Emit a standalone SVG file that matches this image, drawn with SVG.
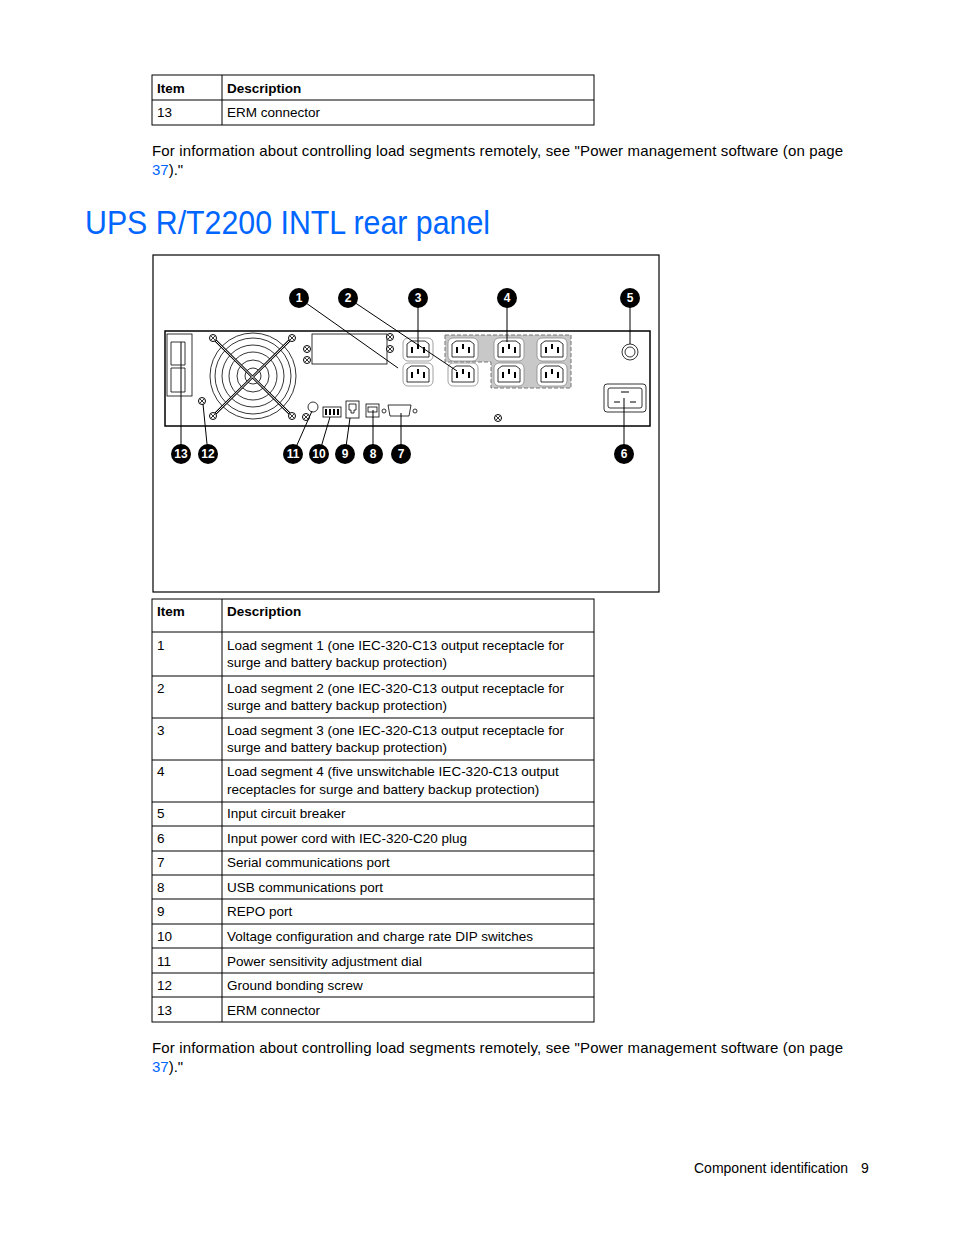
<svg xmlns="http://www.w3.org/2000/svg" width="954" height="1235" viewBox="0 0 954 1235">
<defs>
<style>
text{font-family:"Liberation Sans",Arial,sans-serif;font-size:13.5px;fill:#000}
.b{font-weight:bold}
.t{fill:#fff;font-weight:bold;font-size:12px;text-anchor:middle}
.ln{stroke:#000;stroke-width:1;fill:none}
.tb{stroke:#000;stroke-width:1;fill:none}
.p{fill:#fff;stroke:#000;stroke-width:0.8}
</style>
<g id="c13">
<rect x="0" y="0" width="30" height="23" rx="5" fill="#fff" stroke="#888" stroke-width="0.8"/>
<path d="M4,6 L8,3 H22 L26,6 V19 H4 Z" fill="none" stroke="#000" stroke-width="0.8"/>
<rect x="8" y="9" width="2" height="6" fill="#000"/><rect x="14" y="6" width="2" height="5" fill="#000"/><rect x="20" y="9" width="2" height="6" fill="#000"/>
</g>
<g id="sc"><circle r="3.5" fill="#fff" stroke="#000"/><path d="M-2,-2 L2,2 M-2,2 L2,-2" stroke="#000" stroke-width="0.8"/></g>
</defs>
<rect width="954" height="1235" fill="#fff"/>
<g id="table1">
<rect x="152" y="75" width="442" height="50" class="tb"/>
<line x1="152" y1="100" x2="594" y2="100" class="tb"/><line x1="222" y1="75" x2="222" y2="125" class="tb"/>
<text x="157" y="93" class="b">Item</text><text x="227" y="93" class="b">Description</text>
<text x="157" y="117">13</text><text x="227" y="117">ERM connector</text>
</g>
<text x="152" y="156" style="font-size:15px" textLength="691">For information about controlling load segments remotely, see "Power management software (on page</text>
<text x="152" y="175" style="font-size:15px"><tspan fill="#0066ff">37</tspan>)."</text>
<text id="title" x="85" y="234" style="font-size:33px;fill:#0066ff" textLength="405" lengthAdjust="spacingAndGlyphs">UPS R/T2200 INTL rear panel</text>
<g id="figure">
<rect x="153" y="255" width="506" height="337" fill="#fff" stroke="#000" stroke-width="1.2"/>
<rect x="165" y="331" width="485" height="95" fill="#fff" stroke="#000" stroke-width="1.5"/>
<path d="M445,335 H571 V388 H491 V362 H445 Z" fill="#c8c8c8" stroke="#777" stroke-dasharray="4,2"/>
</g>
<g id="erm"><rect x="167" y="334" width="25" height="62" class="p"/><path d="M171,342 H185 V365 H171 Z M171,368 H185 V392 H171 Z" fill="none" stroke="#000" stroke-width="0.8"/></g>
<g id="fan">
<circle cx="253" cy="376" r="43" class="p"/><circle cx="253" cy="376" r="38" class="p"/><circle cx="253" cy="376" r="31" class="p"/><circle cx="253" cy="376" r="24" class="p"/><circle cx="253" cy="376" r="16" class="p"/><circle cx="253" cy="376" r="8" class="p"/>
<path d="M213,338 L292,416 M292,338 L213,416" stroke="#000" stroke-width="2.5"/>
<path d="M213,338 L292,416 M292,338 L213,416" stroke="#fff" stroke-width="1"/>
<use href="#sc" x="213" y="338"/><use href="#sc" x="292" y="338"/><use href="#sc" x="213" y="416"/><use href="#sc" x="292" y="416"/>
</g>
<g id="module"><rect x="312" y="334" width="75" height="30" class="p"/><use href="#sc" x="307" y="349"/><use href="#sc" x="307" y="360"/><use href="#sc" x="390" y="337"/><use href="#sc" x="390" y="349"/></g>
<g id="screw12"><use href="#sc" x="202" y="401"/></g>
<g id="outlets">
<use href="#c13" x="403" y="338"/><use href="#c13" x="403" y="363"/><use href="#c13" x="448" y="363"/>
<use href="#c13" x="448" y="338"/><use href="#c13" x="494" y="338"/><use href="#c13" x="537" y="338"/><use href="#c13" x="494" y="363"/><use href="#c13" x="537" y="363"/>
</g>
<g id="breaker"><circle cx="630" cy="352" r="8" class="p"/><circle cx="630" cy="352" r="5" class="p"/></g>
<g id="inlet"><rect x="604" y="384" width="42" height="28" rx="3" class="p"/><rect x="608" y="388" width="34" height="20" rx="2" class="p"/><path d="M621,392 H629 M614,402 H620 M630,402 H636" stroke="#000"/></g>
<g id="ports">
<circle cx="313" cy="407" r="5" class="p"/><use href="#sc" x="306" y="417"/>
<rect x="323" y="407" width="18" height="10" class="p"/><path d="M326,409 v6 M330,409 v6 M334,409 v6 M338,409 v6" stroke="#000" stroke-width="2"/>
<rect x="346" y="401" width="13" height="17" class="p"/><path d="M349,404 h7 v6 h-2 v3 h-3 v-3 h-2 z" fill="none" stroke="#000" stroke-width="0.8"/>
<rect x="366" y="404" width="13" height="13" class="p"/><rect x="368" y="407" width="9" height="5" class="p"/>
<path d="M388,405 H411 L409,416 H390 Z" class="p"/><circle cx="384" cy="411" r="2" class="p"/><circle cx="415" cy="411" r="2" class="p"/>
<use href="#sc" x="498" y="418"/>
</g>
<g id="connectors" class="ln">
<line x1="299" y1="298" x2="398" y2="368"/><line x1="348" y1="298" x2="457" y2="371"/><line x1="418" y1="298" x2="418" y2="346"/>
<line x1="507" y1="298" x2="507" y2="342"/><line x1="630" y1="298" x2="630" y2="344"/><line x1="624" y1="454" x2="624" y2="398"/>
<line x1="181" y1="454" x2="181" y2="342"/><line x1="208" y1="454" x2="203" y2="404"/><line x1="293" y1="454" x2="312" y2="411"/>
<line x1="319" y1="454" x2="330" y2="417"/><line x1="345" y1="454" x2="350" y2="418"/><line x1="373" y1="454" x2="373" y2="410"/><line x1="401" y1="454" x2="401" y2="413"/>
</g>
<g id="callouts">
<circle cx="299" cy="298" r="10"/><text x="299" y="302" class="t">1</text>
<circle cx="348" cy="298" r="10"/><text x="348" y="302" class="t">2</text>
<circle cx="418" cy="298" r="10"/><text x="418" y="302" class="t">3</text>
<circle cx="507" cy="298" r="10"/><text x="507" y="302" class="t">4</text>
<circle cx="630" cy="298" r="10"/><text x="630" y="302" class="t">5</text>
<circle cx="624" cy="454" r="10"/><text x="624" y="458" class="t">6</text>
<circle cx="401" cy="454" r="10"/><text x="401" y="458" class="t">7</text>
<circle cx="373" cy="454" r="10"/><text x="373" y="458" class="t">8</text>
<circle cx="345" cy="454" r="10"/><text x="345" y="458" class="t">9</text>
<circle cx="319" cy="454" r="10"/><text x="319" y="458" class="t">10</text>
<circle cx="293" cy="454" r="10"/><text x="293" y="458" class="t">11</text>
<circle cx="208" cy="454" r="10"/><text x="208" y="458" class="t">12</text>
<circle cx="181" cy="454" r="10"/><text x="181" y="458" class="t">13</text>
</g>
<g id="table2">
<rect x="152" y="599" width="442" height="423" class="tb"/>
<line x1="222" y1="599" x2="222" y2="1022" class="tb"/>
<path d="M152,632H594M152,676H594M152,718H594M152,760H594M152,802H594M152,826H594M152,851H594M152,875H594M152,899H594M152,924H594M152,948H594M152,973H594M152,997H594" class="tb"/>
<text x="157" y="616" class="b">Item</text><text x="227" y="616" class="b">Description</text>
<text x="157" y="650">1</text><text x="227" y="650">Load segment 1 (one IEC-320-C13 output receptacle for</text><text x="227" y="667">surge and battery backup protection)</text>
<text x="157" y="693">2</text><text x="227" y="693">Load segment 2 (one IEC-320-C13 output receptacle for</text><text x="227" y="710">surge and battery backup protection)</text>
<text x="157" y="735">3</text><text x="227" y="735">Load segment 3 (one IEC-320-C13 output receptacle for</text><text x="227" y="752">surge and battery backup protection)</text>
<text x="157" y="776">4</text><text x="227" y="776">Load segment 4 (five unswitchable IEC-320-C13 output</text><text x="227" y="794">receptacles for surge and battery backup protection)</text>
<text x="157" y="818">5</text><text x="227" y="818">Input circuit breaker</text>
<text x="157" y="843">6</text><text x="227" y="843">Input power cord with IEC-320-C20 plug</text>
<text x="157" y="867">7</text><text x="227" y="867">Serial communications port</text>
<text x="157" y="892">8</text><text x="227" y="892">USB communications port</text>
<text x="157" y="916">9</text><text x="227" y="916">REPO port</text>
<text x="157" y="941">10</text><text x="227" y="941">Voltage configuration and charge rate DIP switches</text>
<text x="157" y="966">11</text><text x="227" y="966">Power sensitivity adjustment dial</text>
<text x="157" y="990">12</text><text x="227" y="990">Ground bonding screw</text>
<text x="157" y="1015">13</text><text x="227" y="1015">ERM connector</text>
</g>
<text x="152" y="1053" style="font-size:15px" textLength="691">For information about controlling load segments remotely, see "Power management software (on page</text>
<text x="152" y="1072" style="font-size:15px"><tspan fill="#0066ff">37</tspan>)."</text>
<text x="694" y="1173" style="font-size:14px">Component identification</text><text x="861" y="1173" style="font-size:14px">9</text>
</svg>
